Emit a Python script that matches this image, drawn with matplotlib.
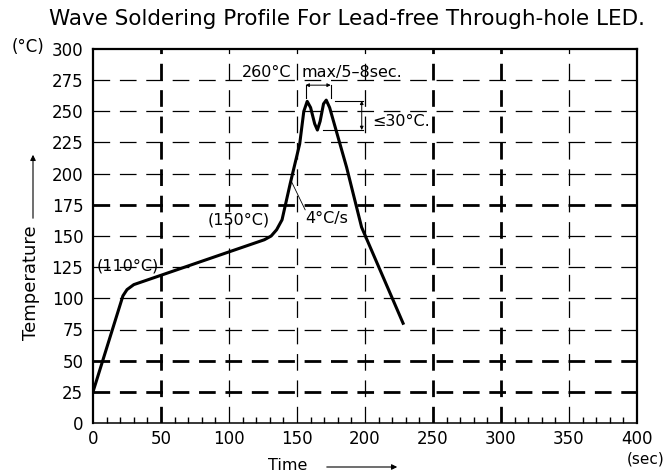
import matplotlib
matplotlib.use("Agg")
import matplotlib.pyplot as plt

plt.rcParams['font.family'] = ['DejaVu Sans']
plt.rcParams['lines.scale_dashes'] = False

# ---- data ----
time_s = [0, 22, 25, 30, 126, 131, 135, 139, 145, 152, 155, 157.5, 160, 163, 165,
          167, 169.5, 171.5, 174, 186.5, 197.5, 228]
temp_c = [25, 102, 107, 111, 147, 150, 155, 163, 192, 224, 250, 258, 253, 240, 235,
          242, 256, 259, 253, 205, 157, 80]

x_ticks = [0, 50, 100, 150, 200, 250, 300, 350, 400]
y_ticks = [0, 25, 50, 75, 100, 125, 150, 175, 200, 225, 250, 275, 300]
v_thick = [50, 250, 300]
v_thin = [100, 150, 200, 350]
h_thick = [25, 50, 175]
h_thin = [75, 100, 125, 150, 200, 225, 250, 275]

peak1_t, peak2_t = 156.3, 174.8
peak_top, valley = 258.5, 235

fig = plt.figure(figsize=(6.7, 4.75), dpi=100)
ax = fig.add_axes([93/670, 1-423/475, (637-93)/670, (423-49)/475])
ax.set_xlim(0, 400)
ax.set_ylim(0, 300)

dash = (0, (12, 7))
for v in v_thick:
    ax.axvline(v, color='black', lw=2.0, linestyle=dash, zorder=1)
for v in v_thin:
    ax.axvline(v, color='black', lw=0.9, linestyle=dash, zorder=1)
for h in h_thick:
    ax.axhline(h, color='black', lw=2.0, linestyle=dash, zorder=1)
for h in h_thin:
    ax.axhline(h, color='black', lw=0.9, linestyle=dash, zorder=1)

ax.plot(time_s, temp_c, color='black', lw=2.2, solid_joinstyle='round', zorder=3)

ax.set_xticks(x_ticks)
ax.set_xticklabels([str(v) for v in x_ticks])
ax.set_yticks(y_ticks)
ax.set_yticklabels([str(v) for v in y_ticks])
ax.set_xticks(range(0, 401, 10), minor=True)
ax.tick_params(axis='both', which='major', length=0, labelsize=12)
ax.tick_params(axis='x', which='major', pad=5)
ax.tick_params(axis='y', which='major', pad=7)
ax.tick_params(axis='x', which='minor', direction='in', length=4, width=1, bottom=True)
ax.tick_params(axis='y', which='minor', length=0)
for s in ['top', 'right', 'left']:
    ax.spines[s].set_linewidth(1.6)
ax.spines['bottom'].set_linewidth(1.1)

fs = 11.5
# annotations
ax.text(109.3, 281.5, "260°C", fontsize=fs, ha='left', va='center', zorder=4)
ax.text(153.5, 281.5, "max/5–8sec.", fontsize=fs, ha='left', va='center', zorder=4)
# bracket for 5-8 sec
ax.plot([peak1_t, peak1_t], [260.4, 271], color='black', lw=0.8)
ax.plot([peak2_t, peak2_t], [260.4, 271], color='black', lw=0.8)
ax.annotate('', xy=(peak1_t, 271), xytext=(peak2_t, 271),
            arrowprops=dict(arrowstyle='<|-|>', lw=0.7, color='black', mutation_scale=5,
                            shrinkA=0, shrinkB=0))
# bracket for <=30C
ax.plot([178, 198.3], [peak_top, peak_top], color='black', lw=0.8)
ax.plot([169.4, 198.3], [valley, valley], color='black', lw=0.8)
ax.annotate('', xy=(197.6, peak_top), xytext=(197.6, valley),
            arrowprops=dict(arrowstyle='<|-|>', lw=0.7, color='black', mutation_scale=5,
                            shrinkA=0, shrinkB=0))
ax.text(205, 241.6, "≤30°C.", fontsize=fs, ha='left', va='center')

ax.text(156, 164, "4°C/s", fontsize=fs, ha='left', va='center')
ax.plot([156, 146], [171, 193.5], color='black', lw=0.6)
ax.text(130, 163, "(150°C)", fontsize=fs, ha='right', va='center')
ax.text(2.5, 126, "(110°C)", fontsize=fs, ha='left', va='center')

# outer texts
fig.text(49/670, 1-19/475, "Wave Soldering Profile For Lead-free Through-hole LED.",
         fontsize=15.5, ha='left', va='center')
fig.text(12/670, 1-47/475, "(°C)", fontsize=12, ha='left', va='center')
fig.text(646/670, 1-459/475, "(sec)", fontsize=11, ha='center', va='center')
fig.text(288/670, 1-466/475, "Time", fontsize=11.5, ha='center', va='center')
fig.add_artist(matplotlib.patches.FancyArrowPatch((324/670, 1-467/475), (400/670, 1-467/475),
               transform=fig.transFigure, arrowstyle='-|>', mutation_scale=8, lw=0.8,
               color='black'))
fig.text(31/670, 1-283/475, "Temperature", fontsize=13, rotation=90, ha='center', va='center')
fig.add_artist(matplotlib.patches.FancyArrowPatch((33/670, 1-221/475), (33/670, 1-152/475),
               transform=fig.transFigure, arrowstyle='-|>', mutation_scale=8, lw=0.8,
               color='black'))

fig.savefig("out.png", dpi=100)
